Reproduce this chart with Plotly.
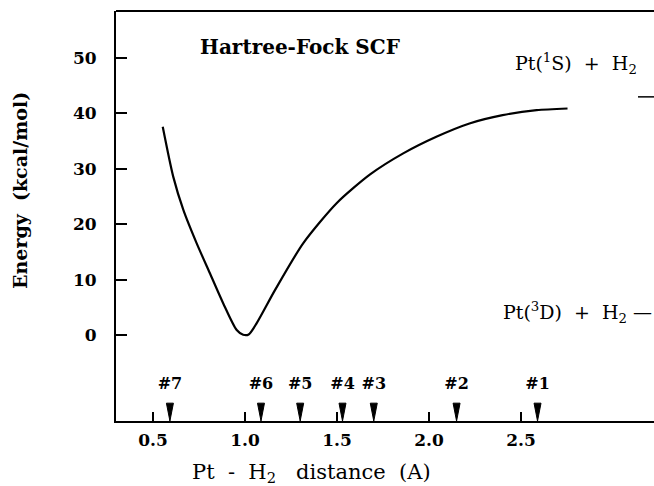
import plotly.graph_objects as go

# ---- data ----
dist = [0.553, 0.61, 0.665, 0.737, 0.81, 0.882, 0.955, 0.99, 1.02, 1.063, 1.163,
        1.317, 1.498, 1.68, 1.86, 2.04, 2.22, 2.40, 2.585, 2.753]
energy = [37.6, 28.6, 22.6, 16.6, 11.1, 5.7, 0.9, 0.05, 0.1, 2.1, 8.1,
          16.6, 23.8, 29.0, 32.8, 35.8, 38.2, 39.7, 40.6, 40.9]

geom_labels = ["#1", "#2", "#3", "#4", "#5", "#6", "#7"]
geom_pos = [2.59, 2.15, 1.70, 1.53, 1.30, 1.087, 0.592]

x_ticks = [0.5, 1.0, 1.5, 2.0, 2.5]
x_ticklabels = ["0.5", "1.0", "1.5", "2.0", "2.5"]
y_ticks = [0, 10, 20, 30, 40, 50]
y_ticklabels = ["0", "10", "20", "30", "40", "50"]

asym_1S = 43.0
asym_3D = 4.0

XR = [0.299, 3.223]
YR = [-15.52, 58.5]

SERIF = "DejaVu Serif"
NB = "\u00a0"
tri_half_w = 0.019
tri_top = -12.3

fig = go.Figure()

fig.add_trace(go.Scatter(x=dist, y=energy, mode="lines",
                         line=dict(color="black", width=2.2, shape="spline", smoothing=0.7),
                         hoverinfo="skip", showlegend=False))

# triangles
tx, ty = [], []
for p in geom_pos:
    tx += [p - tri_half_w, p + tri_half_w, p, p - tri_half_w, None]
    ty += [tri_top, tri_top, YR[0], tri_top, None]
fig.add_trace(go.Scatter(x=tx, y=ty, mode="lines", fill="toself", fillcolor="black",
                         line=dict(color="black", width=1), hoverinfo="skip", showlegend=False))

# geometry labels
fig.add_trace(go.Scatter(x=geom_pos, y=[-9.0] * len(geom_pos), mode="text", text=geom_labels,
                         textfont=dict(family=SERIF, size=16, color="black", weight="bold"),
                         hoverinfo="skip", showlegend=False))

# asymptote dash for 1S
fig.add_trace(go.Scatter(x=[3.136, XR[1]], y=[asym_1S, asym_1S], mode="lines",
                         line=dict(color="black", width=1.5), hoverinfo="skip", showlegend=False))

fig.add_shape(type="line", xref="paper", yref="paper", x0=0, x1=1, y0=1, y1=1,
              line=dict(color="black", width=2))

ann_font = dict(family=SERIF, size=19, color="black")
fig.add_annotation(x=1.299, y=52.0, text="Hartree-Fock" + NB + "SCF", showarrow=False,
                   font=dict(family=SERIF, size=20, color="black", weight="bold"))
fig.add_annotation(x=2.80, y=49.1,
                   text="Pt(<sup>1</sup>S)" + NB * 2 + "+" + NB * 2 + "H<sub>2</sub>",
                   showarrow=False, font=ann_font)
fig.add_annotation(x=1, xref="paper", xanchor="right", y=asym_3D, yanchor="middle",
                   text="Pt(<sup>3</sup>D)" + NB * 2 + "+" + NB * 2 + "H<sub>2</sub>" + NB + "\u2014",
                   showarrow=False, font=ann_font)

fig.add_annotation(x=(311 - 116) / 538, xref="paper", xanchor="center",
                   y=-(473 - 421) / 410, yref="paper", yanchor="middle",
                   text="Pt" + NB * 2 + "-" + NB * 2 + "H<sub>2</sub>" + NB * 3 + "distance" + NB * 2 + "(A)",
                   showarrow=False, font=dict(family=SERIF, size=21, color="black"))
fig.add_annotation(x=-(116 - 20) / 538, xref="paper", xanchor="center",
                   y=(421 - 191) / 410, yref="paper", yanchor="middle",
                   text="Energy" + NB * 2 + "(kcal/mol)", textangle=-90, showarrow=False,
                   font=dict(family=SERIF, size=19, color="black", weight="bold"))

fig.update_xaxes(range=XR, showgrid=False, zeroline=False, showline=True, linecolor="black",
                 linewidth=2, ticks="inside", ticklen=9, tickwidth=1.5, tickcolor="black",
                 tickvals=x_ticks, ticktext=x_ticklabels, ticklabelstandoff=3,
                 tickfont=dict(family=SERIF, size=17, color="black", weight="bold"))
fig.update_yaxes(range=YR, showgrid=False, zeroline=False, showline=True, linecolor="black",
                 linewidth=2, ticks="inside", ticklen=11, tickwidth=1.5, tickcolor="black",
                 tickvals=y_ticks, ticktext=y_ticklabels, ticklabelstandoff=14,
                 tickfont=dict(family=SERIF, size=17, color="black", weight="bold"))

fig.update_layout(width=654, height=486, margin=dict(l=116, r=0, t=11, b=65),
                  plot_bgcolor="white", paper_bgcolor="white", showlegend=False)

fig.write_html("out.html")
